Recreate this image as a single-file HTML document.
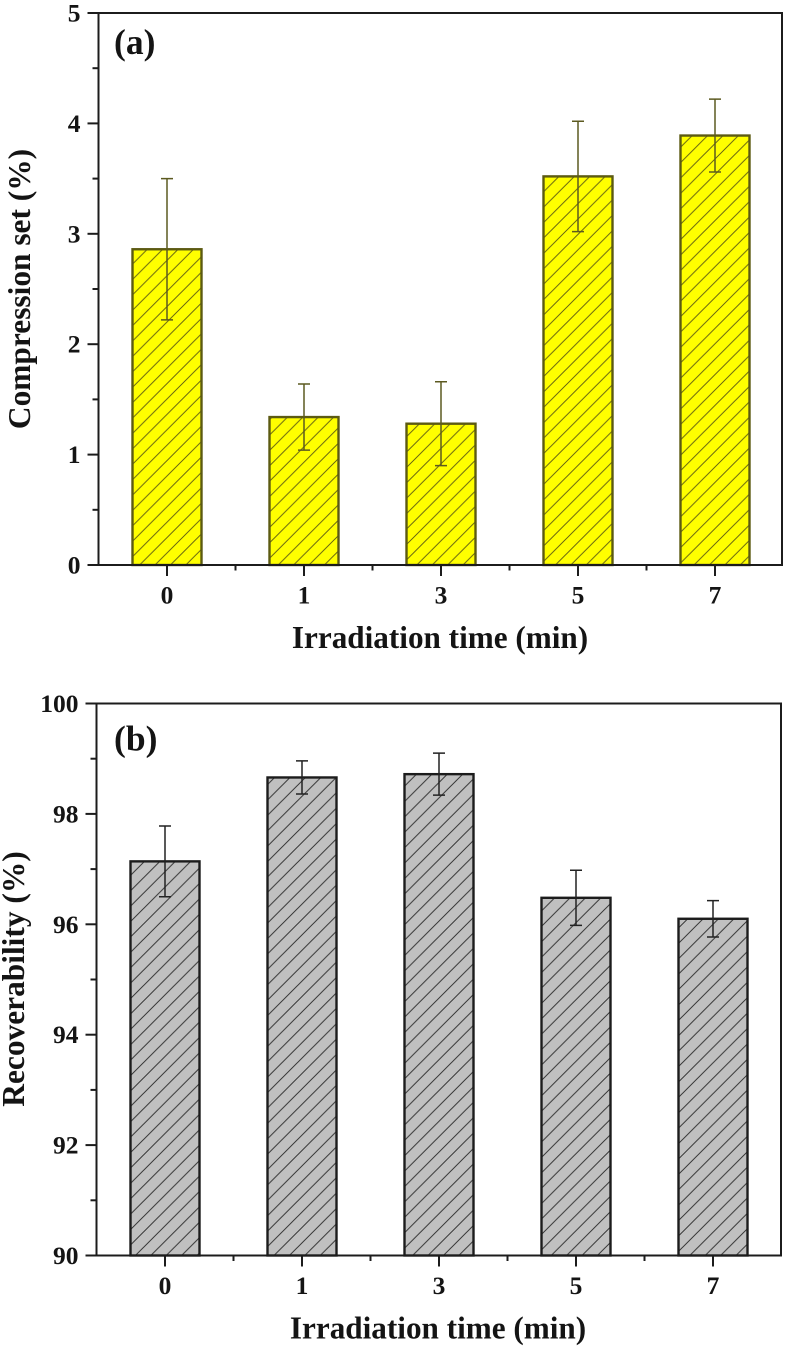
<!DOCTYPE html>
<html lang="en">
<head>
<meta charset="utf-8">
<title>Compression set and recoverability charts</title>
<style>
html,body{margin:0;padding:0;background:#fff;width:787px;height:1346px;overflow:hidden}
svg{display:block}
text{font-family:"Liberation Serif",serif;font-weight:bold;fill:#141414}
</style>
</head>
<body>
<svg id="figure" xmlns="http://www.w3.org/2000/svg" width="787" height="1346" viewBox="0 0 787 1346">
  <defs>
    <pattern id="hatch-a" patternUnits="userSpaceOnUse" width="15.4" height="15.4" patternTransform="translate(11.6 0)">
      <rect width="15.4" height="15.4" fill="#ffff00"/>
      <path d="M-2 2 L2 -2 M0 15.4 L15.4 0 M13.4 17.4 L17.4 13.4" stroke="#5c5a12" stroke-width="0.95" fill="none"/>
    </pattern>
    <pattern id="hatch-b" patternUnits="userSpaceOnUse" width="15.4" height="15.4" patternTransform="translate(4.9 0)">
      <rect width="15.4" height="15.4" fill="#c0c0c0"/>
      <path d="M-2 2 L2 -2 M0 15.4 L15.4 0 M13.4 17.4 L17.4 13.4" stroke="#2a2a2a" stroke-width="0.95" fill="none"/>
    </pattern>
  </defs>
</svg>
<script>
const categories = ['0', '1', '3', '5', '7'];
const compressionSet = [2.86, 1.34, 1.28, 3.52, 3.89];
const compressionErr = [0.64, 0.30, 0.38, 0.50, 0.33];
const recoverability = [97.14, 98.66, 98.72, 96.48, 96.10];
const recoverabilityErr = [0.64, 0.30, 0.38, 0.50, 0.33];
const compressionTicks = [0, 1, 2, 3, 4, 5];
const recoverabilityTicks = [90, 92, 94, 96, 98, 100];

const svg = document.getElementById('figure');
const NS = 'http://www.w3.org/2000/svg';

function add(tag, attrs, parent) {
  const el = document.createElementNS(NS, tag);
  for (const k in attrs) el.setAttribute(k, attrs[k]);
  parent.appendChild(el);
  return el;
}

function drawPanel(cfg) {
  const g = add('g', {}, svg);
  
  

  const yMin = cfg.ticks[0];
  const yMax = cfg.ticks[cfg.ticks.length - 1];
  const yScale = v => cfg.bottom - (v - yMin) / (yMax - yMin) * (cfg.bottom - cfg.top);
  const xScale = i => cfg.firstX + i * cfg.stepX;

  cfg.values.forEach((v, i) => {
    const x = xScale(i);
    const bar = add('rect', {
      x: x - cfg.barW / 2, y: yScale(v), width: cfg.barW, height: cfg.bottom - yScale(v),
      fill: 'url(#' + cfg.hatch + ')', stroke: cfg.barStroke, 'stroke-width': 2.4
    }, g);
    
    

    const e = cfg.errors[i];
    const err = add('path', {
      d: 'M' + x + ' ' + yScale(v + e) + 'V' + yScale(v - e) +
         'M' + (x - 6) + ' ' + yScale(v + e) + 'h12' +
         'M' + (x - 6) + ' ' + yScale(v - e) + 'h12',
      stroke: cfg.errStroke, 'stroke-width': 1.5, fill: 'none'
    }, g);
    
    
  });

  const frame = add('rect', {
    x: cfg.left, y: cfg.top, width: cfg.right - cfg.left, height: cfg.bottom - cfg.top,
    fill: 'none', stroke: '#1c1c1c', 'stroke-width': 2
  }, g);
  
  

  cfg.ticks.forEach((t, i) => {
    const y = yScale(t);
    const tick = add('line', {x1: cfg.left - 11, x2: cfg.left, y1: y, y2: y, stroke: '#1c1c1c', 'stroke-width': 2}, g);
    
    

    const label = add('text', {x: cfg.left - 18, y: y + 8.5, 'text-anchor': 'end', 'font-size': 25.5}, g);
    label.textContent = String(t);
    
    

    if (i < cfg.ticks.length - 1) {
      const my = yScale((t + cfg.ticks[i + 1]) / 2);
      const minor = add('line', {x1: cfg.left - 6, x2: cfg.left, y1: my, y2: my, stroke: '#1c1c1c', 'stroke-width': 2}, g);
      
      
    }
  });

  categories.forEach((c, i) => {
    const x = xScale(i);
    const tick = add('line', {x1: x, x2: x, y1: cfg.bottom, y2: cfg.bottom + 11, stroke: '#1c1c1c', 'stroke-width': 2}, g);
    
    

    const label = add('text', {x: x, y: cfg.bottom + 38.5, 'text-anchor': 'middle', 'font-size': 25.5}, g);
    label.textContent = c;
    
    

    if (i < categories.length - 1) {
      const minor = add('line', {x1: x + cfg.stepX / 2, x2: x + cfg.stepX / 2, y1: cfg.bottom, y2: cfg.bottom + 5.5, stroke: '#1c1c1c', 'stroke-width': 2}, g);
      
      
    }
  });

  const xTitle = add('text', {x: cfg.xTitleX, y: cfg.bottom + 83, 'text-anchor': 'middle', 'font-size': 31.2}, g);
  xTitle.textContent = 'Irradiation time (min)';
  
  

  const yTitle = add('text', {
    transform: 'translate(' + cfg.yTitleX + ' ' + cfg.yTitleY + ') rotate(-90)',
    'text-anchor': 'middle', 'font-size': 31.4
  }, g);
  yTitle.textContent = cfg.yTitle;
  
  

  const panel = add('text', {x: cfg.panelX, y: cfg.top + cfg.panelDy, 'font-size': 35.5}, g);
  panel.textContent = cfg.panel;
  
  
}

drawPanel({
  name: 'compression-set-chart', panel: '(a)', yTitle: 'Compression set (%)',
  values: compressionSet, errors: compressionErr, ticks: compressionTicks,
  left: 98.5, right: 782, top: 13, bottom: 565, firstX: 167, stepX: 137, barW: 69,
  hatch: 'hatch-a', barStroke: '#5c5a12', errStroke: '#5c5a20',
  xTitleX: 440, yTitleX: 30, yTitleY: 289, panelX: 114, panelDy: 41
});

drawPanel({
  name: 'recoverability-chart', panel: '(b)', yTitle: 'Recoverability (%)',
  values: recoverability, errors: recoverabilityErr, ticks: recoverabilityTicks,
  left: 96.5, right: 781, top: 703.5, bottom: 1255.5, firstX: 165, stepX: 137, barW: 69,
  hatch: 'hatch-b', barStroke: '#1c1c1c', errStroke: '#222222',
  xTitleX: 438, yTitleX: 24, yTitleY: 979, panelX: 114, panelDy: 47
});
</script>
</body>
</html>
